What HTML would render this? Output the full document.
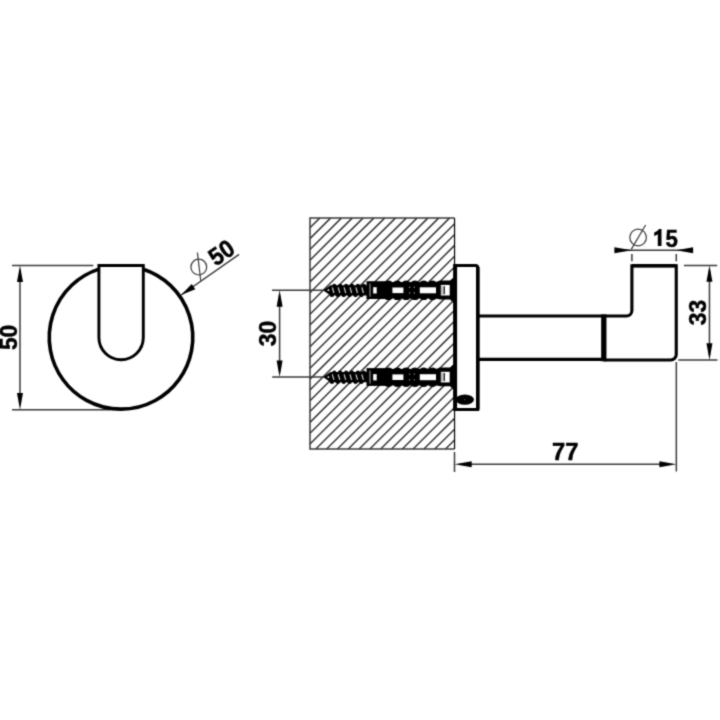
<!DOCTYPE html>
<html><head><meta charset="utf-8"><style>html,body{margin:0;padding:0;background:#fff;width:720px;height:720px;overflow:hidden}svg{display:block}</style></head>
<body><svg width="720" height="720" viewBox="0 0 720 720"><defs><filter id="b" x="0" y="0" width="720" height="720" filterUnits="userSpaceOnUse" color-interpolation-filters="sRGB"><feConvolveMatrix order="3" kernelMatrix="0.0289 0.1122 0.0289 0.1122 0.4356 0.1122 0.0289 0.1122 0.0289" edgeMode="duplicate" preserveAlpha="true"/></filter></defs>
<g filter="url(#b)"><rect width="720" height="720" fill="#fff"/>
<g fill="none" stroke="#3a3a3a" stroke-width="1.5">
<path d="M12 265.42H93.3M12 409.7H110M19.98 270V405"/>
<path d="M181.1 295L239.1 254.4"/>
<circle cx="198.8" cy="267.1" r="7.9" stroke-width="1.2"/>
<path d="M197.4 252.5L200.75 280.7" stroke-width="1.2"/>
</g>
<g fill="#000">
<polygon points="19.98,265.42 16.98,282.00 22.98,282.00"/>
<polygon points="19.98,409.70 22.98,393.00 16.98,393.00"/>
<polygon points="181.10,295.00 195.29,289.25 191.71,283.95"/>
</g>
<path d="M98.9 269.12A71.77 71.77 0 1 0 143.3 269.18" fill="none" stroke="#000" stroke-width="3.6"/>
<path d="M98.9 265.5V337.55A22.2 22.2 0 0 0 143.3 337.55V265.5Z" fill="#fff" stroke="#000" stroke-width="2.9"/>
<g font-family="Liberation Sans" font-weight="bold" font-size="24.5" fill="#000" stroke="#000" stroke-width="0.5" text-anchor="middle">
<text transform="translate(8.2 337.4) rotate(-90) scale(0.93 1)" y="8.7">50</text>
<text transform="translate(221.2 252.4) rotate(-34.5) scale(0.93 1)" y="8.7">50</text>
<text transform="translate(267.5 333.6) rotate(-90) scale(0.93 1)" y="8.7">30</text>
<text transform="translate(697 312.55) rotate(-90) scale(0.93 1)" y="8.7">33</text>
<text transform="translate(565.2 460.3) scale(0.97 1)">77</text>
</g>
<text font-family="Liberation Sans" font-weight="bold" font-size="24.5" fill="#000" stroke="#000" stroke-width="0.5" text-anchor="middle" transform="translate(671.6 246.5) scale(0.91 1)">5</text>
<path d="M657.8 245.9V234.2C656.6 235.1 655.5 235.6 654.2 235.9V232.5C656.6 231.7 658 230.5 659 229H661.5V245.9Z" fill="#000"/>
<path d="M310.00 227.80L319.70 218.10M310.00 238.61L330.51 218.10M310.00 249.42L341.32 218.10M310.00 260.23L352.13 218.10M310.00 271.04L362.94 218.10M310.00 281.85L373.75 218.10M310.00 292.66L384.56 218.10M310.00 303.47L395.37 218.10M310.00 314.28L406.18 218.10M310.00 325.09L416.99 218.10M310.00 335.90L427.80 218.10M310.00 346.71L438.61 218.10M310.00 357.52L449.42 218.10M310.00 368.33L454.55 223.78M310.00 379.14L454.55 234.59M310.00 389.95L454.55 245.40M310.00 400.76L454.55 256.21M310.00 411.57L454.55 267.02M310.00 422.38L454.55 277.83M310.00 433.19L454.55 288.64M310.00 444.00L454.55 299.45M315.81 449.00L454.55 310.26M326.62 449.00L454.55 321.07M337.43 449.00L454.55 331.88M348.24 449.00L454.55 342.69M359.05 449.00L454.55 353.50M369.86 449.00L454.55 364.31M380.67 449.00L454.55 375.12M391.48 449.00L454.55 385.93M402.29 449.00L454.55 396.74M413.10 449.00L454.55 407.55M423.91 449.00L454.55 418.36M434.72 449.00L454.55 429.17M445.53 449.00L454.55 439.98" stroke="#383838" stroke-width="1.5" fill="none"/>
<path d="M454.55 218.1H310V449H454.55" stroke="#3a3a3a" stroke-width="1.5" fill="none"/>
<path d="M454.55 218.1V449" stroke="#000" stroke-width="1.2" fill="none"/>
<g fill="none" stroke="#3a3a3a" stroke-width="1.5">
<path d="M272 290.2H323M272.2 377.1H323.5M279.6 295V372"/>
<path d="M454.5 452V472M676.34 362V471.6M460 464.36H670"/>
<path d="M683.9 265.58H717.2M678.3 360H717.5M709.46 270V355"/>
<path d="M620 250.25H688M631.9 254V261.3M676.3 254V261.3"/>
<circle cx="638.1" cy="237.5" r="8.3" stroke-width="1.2"/>
<path d="M631.25 249.4L645.6 225" stroke-width="1.2"/>
</g>
<g fill="#000">
<polygon points="279.60,290.20 276.60,306.70 282.60,306.70"/>
<polygon points="279.60,377.10 282.60,360.40 276.60,360.40"/>
<polygon points="454.50,464.36 471.70,467.36 471.70,461.36"/>
<polygon points="676.34,464.36 659.40,461.36 659.40,467.36"/>
<polygon points="709.46,265.58 706.46,281.80 712.46,281.80"/>
<polygon points="709.46,360.00 712.46,343.20 706.46,343.20"/>
<polygon points="631.90,250.25 614.40,247.35 614.40,253.15"/>
<polygon points="676.30,250.25 693.10,253.15 693.10,247.35"/>
</g>
<g fill="#000">
<path d="M323 290.2 L330.5 285.2 H367 V295.4 H330.5 Z"/><ellipse cx="334.3" cy="285.30" rx="2" ry="1.6"/><ellipse cx="331.9" cy="295.40" rx="2" ry="1.6"/><ellipse cx="340.2" cy="285.30" rx="2" ry="1.6"/><ellipse cx="337.8" cy="295.40" rx="2" ry="1.6"/><ellipse cx="346.1" cy="285.30" rx="2" ry="1.6"/><ellipse cx="343.7" cy="295.40" rx="2" ry="1.6"/><ellipse cx="352.0" cy="285.30" rx="2" ry="1.6"/><ellipse cx="349.6" cy="295.40" rx="2" ry="1.6"/><ellipse cx="357.9" cy="285.30" rx="2" ry="1.6"/><ellipse cx="355.5" cy="295.40" rx="2" ry="1.6"/><ellipse cx="363.8" cy="285.30" rx="2" ry="1.6"/><ellipse cx="361.4" cy="295.40" rx="2" ry="1.6"/><line x1="332.3" y1="287.40" x2="333.9" y2="293.00" stroke="#ddd" stroke-width="1.1"/><line x1="338.2" y1="287.40" x2="339.8" y2="293.00" stroke="#ddd" stroke-width="1.1"/><line x1="344.1" y1="287.40" x2="345.7" y2="293.00" stroke="#ddd" stroke-width="1.1"/><line x1="350.0" y1="287.40" x2="351.6" y2="293.00" stroke="#ddd" stroke-width="1.1"/><line x1="355.9" y1="287.40" x2="357.5" y2="293.00" stroke="#ddd" stroke-width="1.1"/><line x1="361.8" y1="287.40" x2="363.4" y2="293.00" stroke="#ddd" stroke-width="1.1"/><circle cx="328.4" cy="290.2" r="0.9" fill="#fff"/><path d="M366.5 281.20 H386 V299.00 H366.5 Z"/><rect x="385" y="282.00" width="52" height="16.6"/><ellipse cx="388.5" cy="282.20" rx="3.3" ry="1.7"/><ellipse cx="388.5" cy="298.40" rx="3.3" ry="1.7"/><ellipse cx="397.3" cy="282.20" rx="3.3" ry="1.7"/><ellipse cx="397.3" cy="298.40" rx="3.3" ry="1.7"/><ellipse cx="406.1" cy="282.20" rx="3.3" ry="1.7"/><ellipse cx="406.1" cy="298.40" rx="3.3" ry="1.7"/><ellipse cx="414.9" cy="282.20" rx="3.3" ry="1.7"/><ellipse cx="414.9" cy="298.40" rx="3.3" ry="1.7"/><ellipse cx="423.7" cy="282.20" rx="3.3" ry="1.7"/><ellipse cx="423.7" cy="298.40" rx="3.3" ry="1.7"/><ellipse cx="432.5" cy="282.20" rx="3.3" ry="1.7"/><ellipse cx="432.5" cy="298.40" rx="3.3" ry="1.7"/><line x1="370" y1="283.70" x2="370" y2="296.70" stroke="#aaa" stroke-width="1"/><rect x="373.2" y="287.20" width="3.5" height="6.3" fill="#fff"/><rect x="392.4" y="287.50" width="11" height="5.6" fill="#fff"/><rect x="419.8" y="287.30" width="16.6" height="6" fill="#fff"/><circle cx="409.6" cy="287.20" r="0.6" fill="#ccc"/><circle cx="409.6" cy="292.90" r="0.6" fill="#ccc"/><circle cx="414.2" cy="287.20" r="0.6" fill="#ccc"/><circle cx="414.2" cy="292.90" r="0.6" fill="#ccc"/><path d="M436 282.00 L440 280.60 H450 L454 277.20 V303.20 L450 299.40 H440 L436 298.40 Z"/><rect x="440.8" y="284.90" width="8.9" height="10.6" fill="#fff"/><line x1="441.9" y1="285.70" x2="441.9" y2="294.70" stroke="#999" stroke-width="1.2"/><line x1="444.2" y1="286.20" x2="444.2" y2="294.20" stroke="#111" stroke-width="1.4"/>
<path d="M323 377.1 L330.5 372.1 H367 V382.3 H330.5 Z"/><ellipse cx="334.3" cy="372.20" rx="2" ry="1.6"/><ellipse cx="331.9" cy="382.30" rx="2" ry="1.6"/><ellipse cx="340.2" cy="372.20" rx="2" ry="1.6"/><ellipse cx="337.8" cy="382.30" rx="2" ry="1.6"/><ellipse cx="346.1" cy="372.20" rx="2" ry="1.6"/><ellipse cx="343.7" cy="382.30" rx="2" ry="1.6"/><ellipse cx="352.0" cy="372.20" rx="2" ry="1.6"/><ellipse cx="349.6" cy="382.30" rx="2" ry="1.6"/><ellipse cx="357.9" cy="372.20" rx="2" ry="1.6"/><ellipse cx="355.5" cy="382.30" rx="2" ry="1.6"/><ellipse cx="363.8" cy="372.20" rx="2" ry="1.6"/><ellipse cx="361.4" cy="382.30" rx="2" ry="1.6"/><line x1="332.3" y1="374.30" x2="333.9" y2="379.90" stroke="#ddd" stroke-width="1.1"/><line x1="338.2" y1="374.30" x2="339.8" y2="379.90" stroke="#ddd" stroke-width="1.1"/><line x1="344.1" y1="374.30" x2="345.7" y2="379.90" stroke="#ddd" stroke-width="1.1"/><line x1="350.0" y1="374.30" x2="351.6" y2="379.90" stroke="#ddd" stroke-width="1.1"/><line x1="355.9" y1="374.30" x2="357.5" y2="379.90" stroke="#ddd" stroke-width="1.1"/><line x1="361.8" y1="374.30" x2="363.4" y2="379.90" stroke="#ddd" stroke-width="1.1"/><circle cx="328.4" cy="377.1" r="0.9" fill="#fff"/><path d="M366.5 368.10 H386 V385.90 H366.5 Z"/><rect x="385" y="368.90" width="52" height="16.6"/><ellipse cx="388.5" cy="369.10" rx="3.3" ry="1.7"/><ellipse cx="388.5" cy="385.30" rx="3.3" ry="1.7"/><ellipse cx="397.3" cy="369.10" rx="3.3" ry="1.7"/><ellipse cx="397.3" cy="385.30" rx="3.3" ry="1.7"/><ellipse cx="406.1" cy="369.10" rx="3.3" ry="1.7"/><ellipse cx="406.1" cy="385.30" rx="3.3" ry="1.7"/><ellipse cx="414.9" cy="369.10" rx="3.3" ry="1.7"/><ellipse cx="414.9" cy="385.30" rx="3.3" ry="1.7"/><ellipse cx="423.7" cy="369.10" rx="3.3" ry="1.7"/><ellipse cx="423.7" cy="385.30" rx="3.3" ry="1.7"/><ellipse cx="432.5" cy="369.10" rx="3.3" ry="1.7"/><ellipse cx="432.5" cy="385.30" rx="3.3" ry="1.7"/><line x1="370" y1="370.60" x2="370" y2="383.60" stroke="#aaa" stroke-width="1"/><rect x="373.2" y="374.10" width="3.5" height="6.3" fill="#fff"/><rect x="392.4" y="374.40" width="11" height="5.6" fill="#fff"/><rect x="419.8" y="374.20" width="16.6" height="6" fill="#fff"/><circle cx="409.6" cy="374.10" r="0.6" fill="#ccc"/><circle cx="409.6" cy="379.80" r="0.6" fill="#ccc"/><circle cx="414.2" cy="374.10" r="0.6" fill="#ccc"/><circle cx="414.2" cy="379.80" r="0.6" fill="#ccc"/><path d="M436 368.90 L440 367.50 H450 L454 364.10 V390.10 L450 386.30 H440 L436 385.30 Z"/><rect x="440.8" y="371.80" width="8.9" height="10.6" fill="#fff"/><line x1="441.9" y1="372.60" x2="441.9" y2="381.60" stroke="#999" stroke-width="1.2"/><line x1="444.2" y1="373.10" x2="444.2" y2="381.10" stroke="#111" stroke-width="1.4"/>
</g>
<path d="M455.1 265.5H475.5A2.3 2.3 0 0 1 477.8 267.8V409.5H455.1" fill="#fff" stroke="#000" stroke-width="2.9"/>
<path d="M477.8 267V409.5" stroke="#000" stroke-width="3.6"/>
<path d="M455.1 264V411" stroke="#000" stroke-width="4"/>
<ellipse cx="464.8" cy="399.6" rx="9.2" ry="5.2" fill="#000"/>
<circle cx="464.8" cy="399.6" r="0.7" fill="#666"/>
<path d="M478 315.95H603.8M478 359.37H603.8" stroke="#000" stroke-width="3.1"/>
<path d="M603.8 314.4V361.3" stroke="#000" stroke-width="5.3"/>
<path d="M603.8 315.95H626.4A5.5 5.5 0 0 0 631.9 310.45V265.7H676.25V354.5A5.5 5.5 0 0 1 670.75 360H603.8" fill="none" stroke="#000" stroke-width="3.1"/>
<path d="M631.9 265.7H676.25" stroke="#000" stroke-width="3.6"/>
</g></svg></body></html>
